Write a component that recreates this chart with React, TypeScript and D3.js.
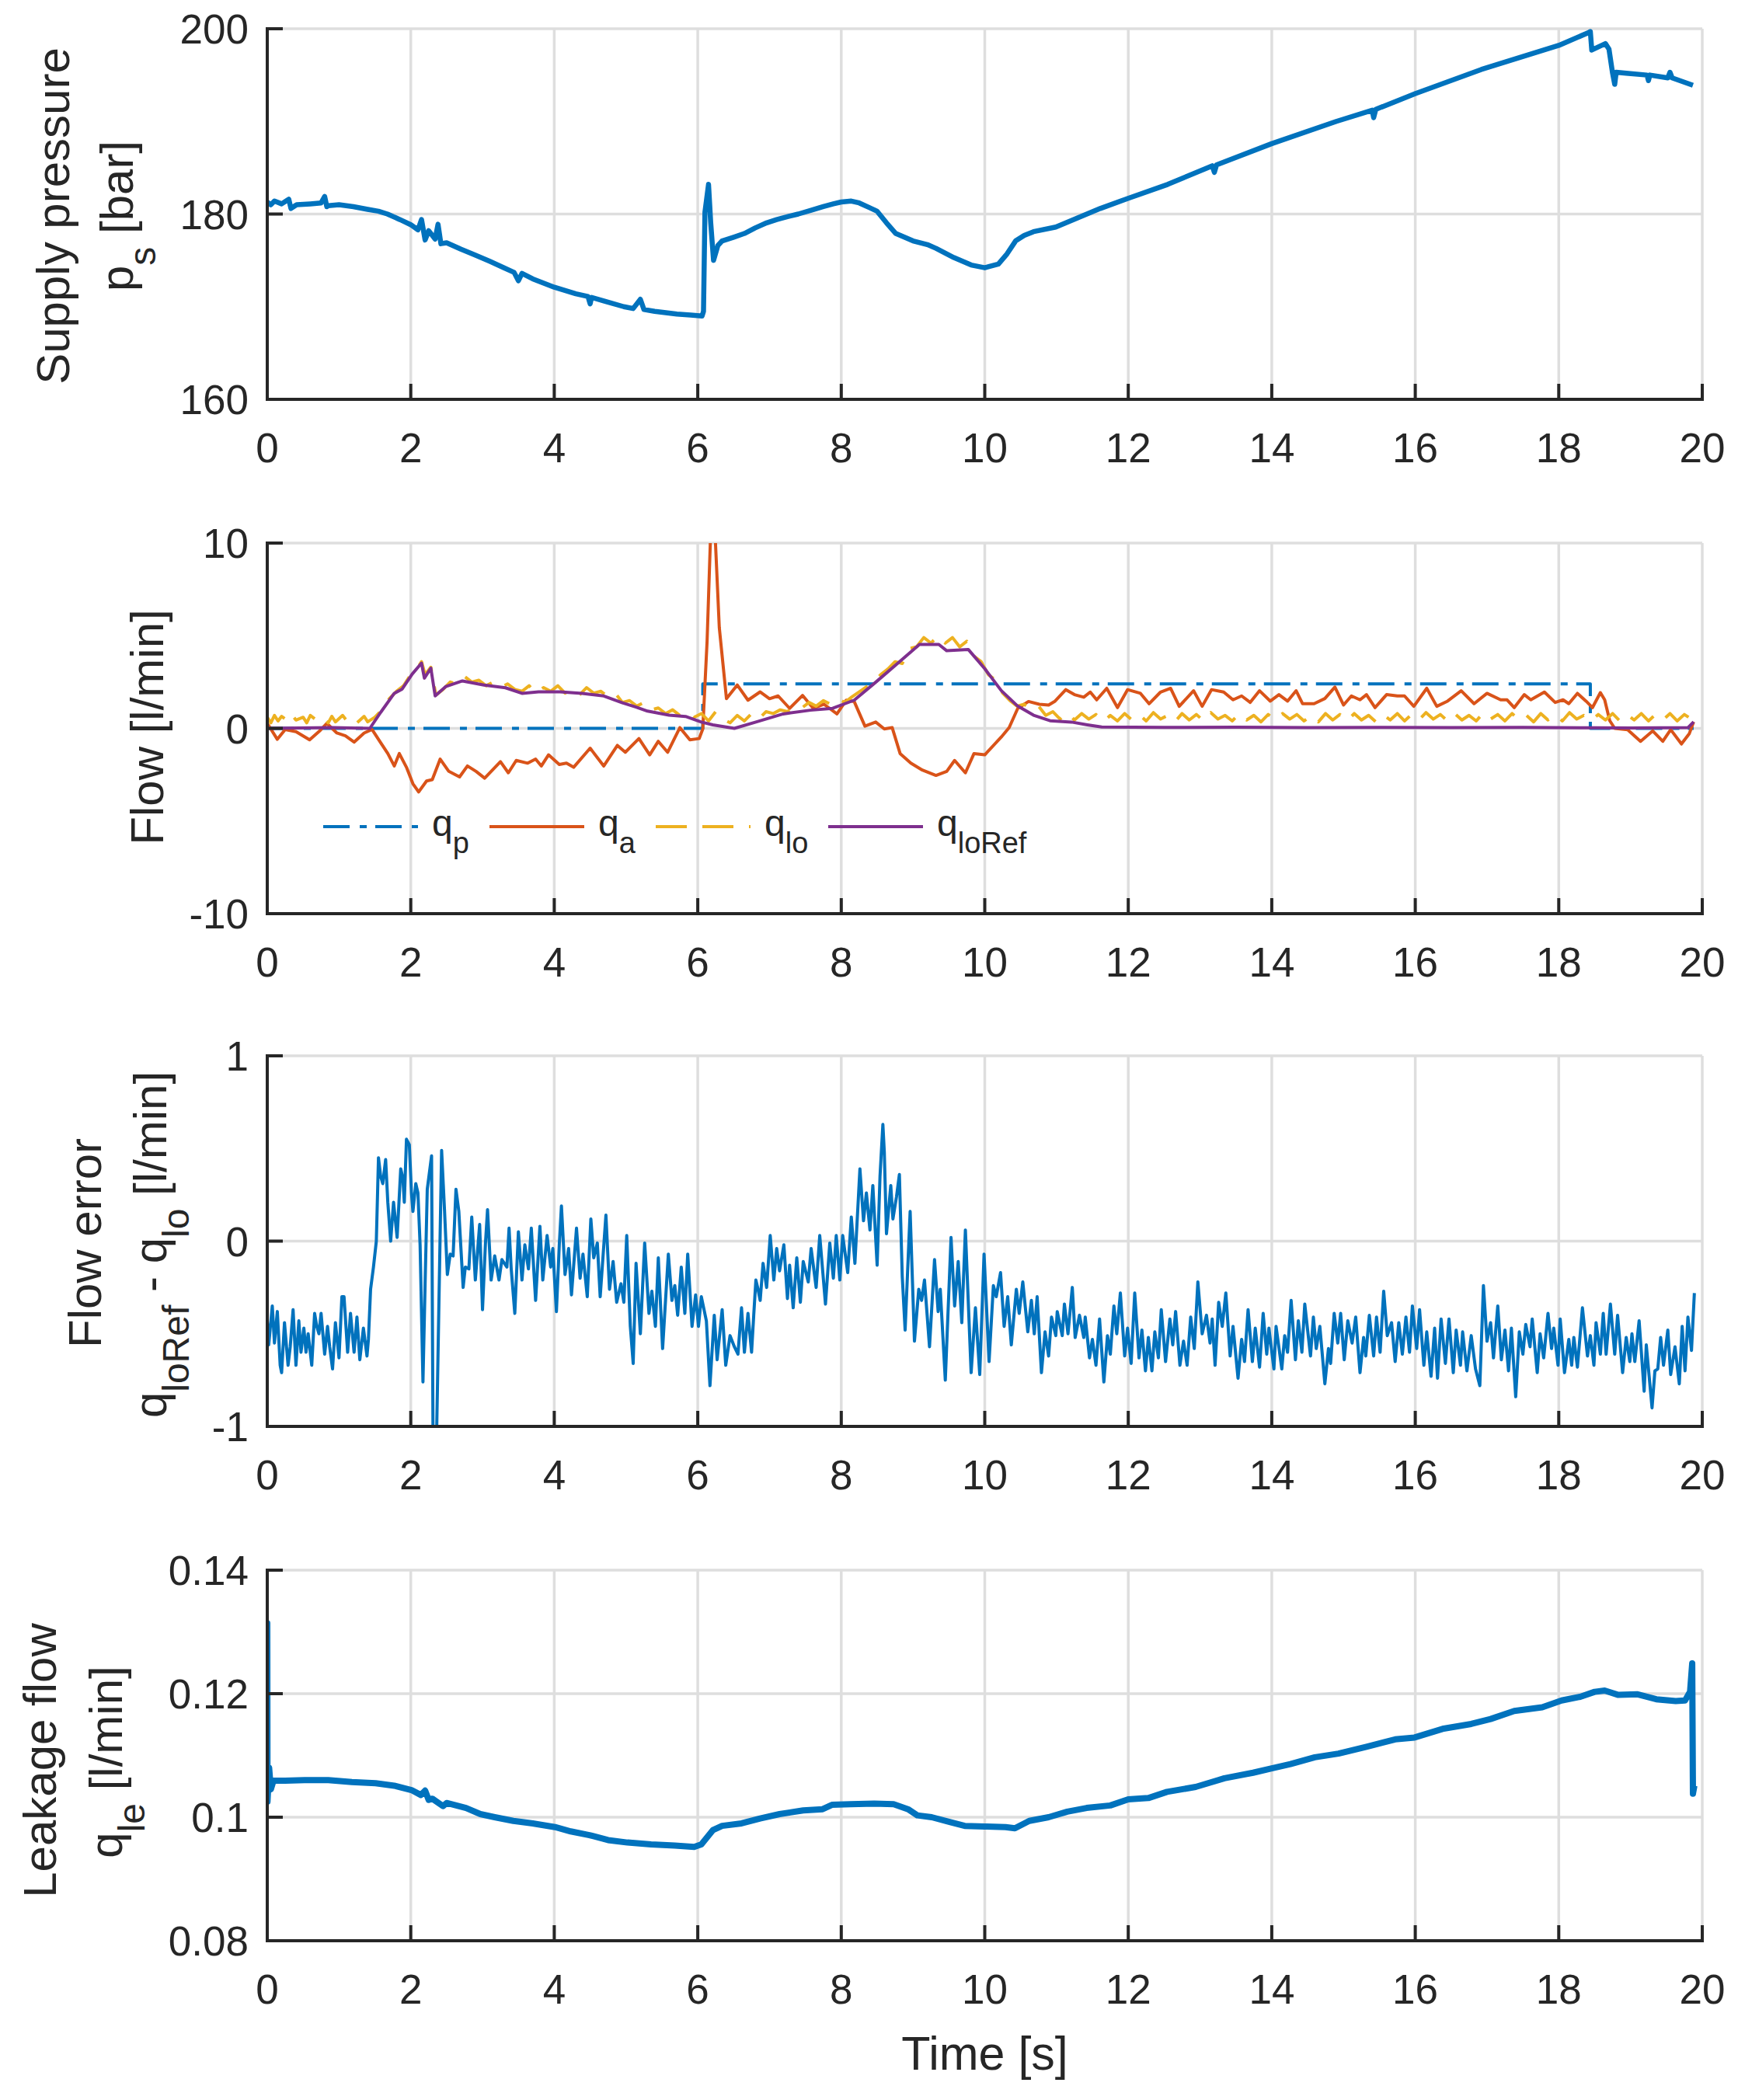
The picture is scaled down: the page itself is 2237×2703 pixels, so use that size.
import * as d3 from "d3";

type Pt = [number, number];

const W = 2237;
const H = 2703;
const LEFT = 344;
const RIGHT = 2191;
const PH = 477;
const TOPS = [37, 699, 1359, 2021];
const FONT = '"Liberation Sans", Arial, Helvetica, sans-serif';
const INK = "#262626";
const GRID = "#dedede";
const BLUE = "#0072BD";
const ORANGE = "#D95319";
const YELLOW = "#EDB120";
const PURPLE = "#7E2F8E";

const timeTicks = [0, 2, 4, 6, 8, 10, 12, 14, 16, 18, 20];
const psTicks = [160, 180, 200];
const flowTicks = [-10, 0, 10];
const errTicks = [-1, 0, 1];
const leakTicks = [0.08, 0.1, 0.12, 0.14];

// supply pressure [bar]
const ps: Pt[] = [
  [0, 181.3], [0.05, 181.0], [0.1, 181.4], [0.2, 181.1], [0.3, 181.6], [0.33, 180.6], [0.41, 181.0],
  [0.6, 181.1], [0.75, 181.2], [0.8, 181.9], [0.83, 180.8], [0.85, 180.9], [1.0, 181.0], [1.2, 180.8],
  [1.4, 180.5], [1.55, 180.3], [1.675, 180.0], [1.85, 179.4], [2.0, 178.85], [2.1, 178.3], [2.15, 179.4],
  [2.2, 177.2], [2.25, 178.2], [2.34, 177.3], [2.38, 178.9], [2.42, 176.8], [2.5, 176.9], [2.7, 176.2],
  [2.89, 175.6], [3.1, 174.9], [3.3, 174.2], [3.44, 173.7], [3.5, 172.8], [3.55, 173.6], [3.7, 173.0],
  [4.0, 172.1], [4.3, 171.4], [4.47, 171.1], [4.5, 170.3], [4.52, 171.0], [4.7, 170.6], [4.97, 170.0],
  [5.1, 169.8], [5.2, 170.8], [5.25, 169.7], [5.4, 169.5], [5.6, 169.3], [5.71, 169.2], [5.9, 169.1],
  [6.06, 169.0], [6.08, 169.5], [6.1, 180.2], [6.15, 183.2], [6.18, 179.1], [6.22, 175.0], [6.28, 176.6],
  [6.34, 177.1], [6.5, 177.5], [6.65, 177.9], [6.8, 178.5], [6.96, 179.05], [7.1, 179.4], [7.27, 179.75],
  [7.4, 180.0], [7.58, 180.4], [7.75, 180.8], [7.89, 181.1], [8.0, 181.3], [8.14, 181.4], [8.25, 181.2],
  [8.39, 180.7], [8.5, 180.3], [8.63, 179.05], [8.76, 177.9], [9.0, 177.1], [9.2, 176.7], [9.32, 176.3],
  [9.57, 175.3], [9.81, 174.5], [10.0, 174.2], [10.19, 174.6], [10.31, 175.7], [10.43, 177.1],
  [10.55, 177.7], [10.68, 178.1], [10.99, 178.6], [11.3, 179.6], [11.61, 180.6], [12.0, 181.7],
  [12.55, 183.2], [13.17, 185.2], [13.2, 184.5], [13.23, 185.3], [14.0, 187.6], [14.9, 190.0],
  [15.4, 191.2], [15.42, 190.4], [15.45, 191.3], [16.0, 193.0], [16.92, 195.6], [18.0, 198.2],
  [18.42, 199.6], [18.44, 199.7], [18.46, 197.7], [18.65, 198.4], [18.7, 197.8], [18.75, 195.2],
  [18.78, 194.0], [18.8, 195.3], [18.94, 195.2], [19.23, 195.0], [19.25, 194.4], [19.27, 195.0],
  [19.52, 194.7], [19.55, 195.3], [19.58, 194.7], [19.87, 193.9],
];

// pump flow q_p [l/min]
const qp: Pt[] = [
  [0, 0], [6.07, 0], [6.07, 2.4], [18.44, 2.4], [18.44, 0], [19.88, 0],
];

// actuator flow q_a [l/min]
const qa: Pt[] = [
  [0, 0.27], [0.14, -0.59], [0.25, -0.06], [0.4, -0.18], [0.59, -0.62], [0.74, -0.1], [0.83, 0.27],
  [0.97, -0.25], [1.09, -0.4], [1.21, -0.74], [1.35, -0.25], [1.46, -0.06], [1.58, -0.77], [1.68, -1.36],
  [1.77, -2.03], [1.84, -1.36], [1.94, -2.1], [2.03, -2.99], [2.11, -3.43], [2.22, -2.84], [2.3, -2.77],
  [2.41, -1.66], [2.53, -2.32], [2.68, -2.62], [2.79, -2.03], [2.91, -2.32], [3.03, -2.69], [3.25, -1.8],
  [3.36, -2.4], [3.47, -1.73], [3.63, -1.88], [3.74, -1.66], [3.82, -2.03], [3.92, -1.43], [4.07, -1.95],
  [4.17, -1.88], [4.27, -2.1], [4.5, -1.07], [4.69, -2.03], [4.88, -0.92], [4.99, -1.29], [5.18, -0.55],
  [5.33, -1.43], [5.45, -0.7], [5.58, -1.29], [5.75, 0.04], [5.89, -0.62], [6.02, -0.55], [6.07, -0.03],
  [6.13, 4.7], [6.18, 10.6], [6.24, 10.6], [6.3, 5.44], [6.4, 1.6], [6.55, 2.34], [6.7, 1.52],
  [6.87, 1.97], [7.0, 1.6], [7.12, 1.75], [7.28, 1.08], [7.46, 1.78], [7.61, 1.08], [7.76, 1.3],
  [7.94, 0.78], [8.07, 1.52], [8.18, 1.45], [8.33, 0.12], [8.48, 0.34], [8.6, -0.03], [8.71, 0.04],
  [8.82, -1.36], [8.97, -1.88], [9.13, -2.25], [9.32, -2.54], [9.47, -2.32], [9.58, -1.73], [9.73, -2.4],
  [9.85, -1.36], [10.0, -1.43], [10.23, -0.47], [10.34, 0.04], [10.46, 1.08], [10.61, 1.45], [10.76, 1.3],
  [10.89, 1.26], [10.98, 1.47], [11.13, 2.09], [11.25, 1.82], [11.38, 1.68], [11.47, 1.96], [11.56, 1.54],
  [11.7, 2.16], [11.85, 1.12], [11.99, 2.09], [12.17, 1.89], [12.29, 1.33], [12.45, 1.96], [12.59, 2.16],
  [12.71, 1.19], [12.91, 2.03], [13.03, 1.19], [13.16, 2.09], [13.33, 1.96], [13.46, 1.54], [13.58, 1.75],
  [13.7, 1.4], [13.83, 2.03], [13.98, 1.47], [14.1, 1.82], [14.22, 1.47], [14.34, 2.03], [14.43, 1.33],
  [14.59, 1.33], [14.74, 1.61], [14.88, 2.23], [15.0, 1.26], [15.11, 1.75], [15.23, 1.54], [15.32, 1.82],
  [15.44, 1.12], [15.6, 1.82], [15.75, 1.75], [15.85, 1.75], [15.98, 1.19], [16.16, 2.16], [16.3, 1.19],
  [16.45, 1.47], [16.64, 2.03], [16.82, 1.33], [17.0, 1.89], [17.19, 1.54], [17.28, 1.54], [17.38, 1.12],
  [17.52, 1.82], [17.61, 1.54], [17.8, 1.96], [17.95, 1.4], [18.06, 1.54], [18.14, 1.33], [18.26, 1.89],
  [18.38, 1.47], [18.47, 1.12], [18.58, 1.93], [18.64, 1.54], [18.71, 0.42], [18.78, 0.0], [18.96, -0.07],
  [19.14, -0.7], [19.31, -0.14], [19.45, -0.7], [19.56, -0.07], [19.71, -0.84], [19.82, -0.28], [19.88, 0.35],
];

// load flow q_lo [l/min]
const qlo: Pt[] = [
  [0, 0.6], [0.05, 0.3], [0.1, 0.7], [0.15, 0.4], [0.2, 0.65], [0.3, 0.35], [0.35, 0.7], [0.4, 0.45],
  [0.5, 0.6], [0.55, 0.3], [0.6, 0.7], [0.7, 0.4], [0.75, 0.6], [0.85, 0.3], [0.9, 0.65], [0.95, 0.35],
  [1.05, 0.7], [1.1, 0.45], [1.2, 0.6], [1.25, 0.3], [1.35, 0.65], [1.4, 0.35], [1.5, 0.6], [1.6, 1.0],
  [1.7, 1.6], [1.8, 2.0], [1.9, 2.3], [2.0, 2.9], [2.1, 3.3], [2.15, 3.6], [2.2, 2.9], [2.28, 3.3],
  [2.35, 1.8], [2.45, 2.1], [2.55, 2.5], [2.65, 2.4], [2.75, 2.8], [2.85, 2.5], [2.95, 2.6], [3.05, 2.3],
  [3.15, 2.5], [3.25, 2.2], [3.35, 2.4], [3.45, 2.1], [3.55, 2.0], [3.65, 2.3], [3.75, 1.9], [3.85, 2.2],
  [3.95, 2.0], [4.05, 2.3], [4.15, 1.9], [4.25, 2.1], [4.35, 1.8], [4.45, 2.2], [4.55, 1.9], [4.65, 2.0],
  [4.75, 1.7], [4.85, 1.9], [4.95, 1.4], [5.05, 1.5], [5.15, 1.2], [5.25, 1.4], [5.35, 1.0], [5.45, 1.1],
  [5.55, 0.8], [5.65, 1.0], [5.75, 0.7], [5.85, 0.9], [5.95, 0.6], [6.05, 0.8], [6.15, 0.4], [6.25, 0.9],
  [6.35, 0.5], [6.45, 0.3], [6.55, 0.7], [6.65, 0.4], [6.75, 0.8], [6.85, 0.5], [6.95, 0.9], [7.05, 0.8],
  [7.15, 1.0], [7.25, 0.9], [7.35, 1.2], [7.45, 1.1], [7.55, 1.4], [7.65, 1.2], [7.75, 1.5], [7.85, 1.3],
  [7.95, 1.6], [8.05, 1.4], [8.15, 1.7], [8.3, 2.1], [8.45, 2.5], [8.55, 2.9], [8.65, 3.2], [8.75, 3.6],
  [8.85, 3.5], [8.95, 4.3], [9.05, 4.4], [9.15, 4.9], [9.25, 4.6], [9.35, 5.0], [9.45, 4.6], [9.55, 4.9],
  [9.65, 4.4], [9.75, 4.7], [9.85, 3.9], [9.95, 3.6], [10.05, 2.9], [10.15, 2.6], [10.25, 1.9], [10.35, 1.5],
  [10.45, 1.2], [10.55, 1.3], [10.65, 1.0], [10.75, 1.2], [10.85, 0.7], [10.95, 0.9], [11.05, 0.5],
  [11.15, 0.85], [11.25, 0.45], [11.35, 0.8], [11.45, 0.5], [11.55, 0.75], [11.65, 0.35], [11.75, 0.7],
  [11.85, 0.4], [11.95, 0.8], [12.05, 0.45], [12.15, 0.75], [12.25, 0.4], [12.35, 0.85], [12.45, 0.5],
  [12.55, 0.7], [12.65, 0.35], [12.75, 0.8], [12.85, 0.45], [12.95, 0.75], [13.05, 0.4], [13.15, 0.85],
  [13.25, 0.5], [13.35, 0.7], [13.45, 0.4], [13.55, 0.8], [13.65, 0.45], [13.75, 0.7], [13.85, 0.35],
  [13.95, 0.75], [14.05, 0.45], [14.15, 0.8], [14.25, 0.5], [14.35, 0.75], [14.45, 0.4], [14.55, 0.7],
  [14.65, 0.35], [14.75, 0.8], [14.85, 0.45], [14.95, 0.75], [15.05, 0.4], [15.15, 0.8], [15.25, 0.45],
  [15.35, 0.7], [15.45, 0.35], [15.55, 0.75], [15.65, 0.45], [15.75, 0.8], [15.85, 0.4], [15.95, 0.75],
  [16.05, 0.45], [16.15, 0.85], [16.25, 0.5], [16.35, 0.75], [16.45, 0.4], [16.55, 0.8], [16.65, 0.45],
  [16.75, 0.7], [16.85, 0.4], [16.95, 0.85], [17.05, 0.5], [17.15, 0.75], [17.25, 0.4], [17.35, 0.8],
  [17.45, 0.45], [17.55, 0.7], [17.65, 0.35], [17.75, 0.8], [17.85, 0.45], [17.95, 0.75], [18.05, 0.4],
  [18.15, 0.85], [18.25, 0.5], [18.35, 0.7], [18.45, 0.4], [18.55, 0.75], [18.65, 0.45], [18.75, 0.8],
  [18.85, 0.4], [18.95, 0.75], [19.05, 0.45], [19.15, 0.8], [19.25, 0.4], [19.35, 0.75], [19.45, 0.45],
  [19.55, 0.8], [19.65, 0.4], [19.75, 0.75], [19.85, 0.5], [19.88, 0.85],
];

// load flow reference q_loRef [l/min]
const qloRef: Pt[] = [
  [0, 0], [0.9, 0.04], [1.43, 0], [1.58, 0.86], [1.77, 1.89], [1.88, 2.12], [2.02, 2.93], [2.15, 3.52],
  [2.19, 2.71], [2.28, 3.25], [2.34, 1.75], [2.49, 2.26], [2.72, 2.56], [3.02, 2.34], [3.32, 2.19],
  [3.55, 1.89], [3.78, 1.97], [4.08, 1.97], [4.39, 1.89], [4.69, 1.75], [4.95, 1.38], [5.14, 1.15],
  [5.3, 0.93], [5.6, 0.71], [5.83, 0.64], [6.05, 0.34], [6.21, 0.19], [6.51, 0], [6.81, 0.34], [7.19, 0.78],
  [7.57, 0.98], [7.88, 1.08], [8.18, 1.52], [8.48, 2.49], [8.79, 3.52], [9.09, 4.53], [9.36, 4.53],
  [9.47, 4.19], [9.77, 4.26], [10.0, 3.22], [10.23, 2.04], [10.45, 1.23], [10.68, 0.71], [10.91, 0.41],
  [11.21, 0.34], [11.43, 0.19], [11.63, 0.07], [12.5, 0.05], [13.5, 0.06], [14.5, 0.04], [15.5, 0.05],
  [16.5, 0.04], [17.5, 0.05], [18.5, 0.03], [19.0, 0.02], [19.8, 0.04], [19.88, 0.35],
];

// flow error q_loRef - q_lo [l/min]
const flowErr: Pt[] = [
  [0, -0.43], [0.02, -0.56], [0.07, -0.35], [0.1, -0.55], [0.14, -0.38], [0.18, -0.67], [0.2, -0.71],
  [0.24, -0.44], [0.29, -0.67], [0.32, -0.57], [0.36, -0.37], [0.4, -0.67], [0.44, -0.43], [0.47, -0.6],
  [0.51, -0.47], [0.54, -0.6], [0.57, -0.5], [0.62, -0.67], [0.66, -0.39], [0.69, -0.46], [0.72, -0.5],
  [0.75, -0.39], [0.8, -0.61], [0.84, -0.46], [0.87, -0.57], [0.91, -0.69], [0.95, -0.44], [1.0, -0.63],
  [1.04, -0.3], [1.07, -0.3], [1.12, -0.6], [1.16, -0.39], [1.21, -0.6], [1.25, -0.41], [1.29, -0.64],
  [1.34, -0.47], [1.39, -0.62], [1.41, -0.53], [1.44, -0.26], [1.48, -0.14], [1.52, 0.0], [1.55, 0.45],
  [1.58, 0.35], [1.61, 0.31], [1.65, 0.44], [1.68, 0.21], [1.72, 0.0], [1.76, 0.21], [1.81, 0.02],
  [1.86, 0.39], [1.89, 0.34], [1.91, 0.21], [1.94, 0.55], [1.98, 0.52], [2.01, 0.26], [2.03, 0.16],
  [2.07, 0.31], [2.1, 0.26], [2.13, -0.02], [2.17, -0.76], [2.2, -0.23], [2.23, 0.28], [2.29, 0.46],
  [2.31, -1.05], [2.36, -1.05], [2.39, -0.39], [2.43, 0.49], [2.47, 0.17], [2.51, -0.18], [2.55, -0.07],
  [2.59, -0.08], [2.63, 0.28], [2.67, 0.16], [2.73, -0.25], [2.76, -0.14], [2.81, -0.15], [2.85, 0.13],
  [2.9, -0.21], [2.96, 0.09], [3.0, -0.37], [3.04, -0.02], [3.07, 0.17], [3.12, -0.21], [3.17, -0.08],
  [3.23, -0.21], [3.27, -0.1], [3.34, -0.14], [3.37, 0.07], [3.4, -0.15], [3.45, -0.39], [3.5, 0.05],
  [3.55, -0.21], [3.59, -0.02], [3.64, -0.15], [3.68, 0.07], [3.74, -0.32], [3.8, 0.08], [3.84, -0.21],
  [3.9, 0.03], [3.95, -0.14], [3.98, -0.04], [4.03, -0.38], [4.07, -0.02], [4.1, 0.19], [4.15, -0.18],
  [4.2, -0.04], [4.24, -0.29], [4.31, 0.07], [4.36, -0.2], [4.4, -0.07], [4.46, -0.3], [4.51, 0.12],
  [4.55, -0.09], [4.6, -0.01], [4.64, -0.3], [4.72, 0.14], [4.77, -0.26], [4.82, -0.11], [4.87, -0.33],
  [4.93, -0.23], [4.97, -0.33], [5.01, 0.03], [5.06, -0.46], [5.1, -0.66], [5.14, -0.12], [5.2, -0.5],
  [5.26, -0.01], [5.32, -0.39], [5.36, -0.27], [5.41, -0.46], [5.45, -0.09], [5.51, -0.58], [5.59, -0.07],
  [5.64, -0.32], [5.68, -0.24], [5.72, -0.4], [5.77, -0.14], [5.82, -0.39], [5.86, -0.07], [5.92, -0.46],
  [5.97, -0.29], [6.01, -0.46], [6.05, -0.3], [6.12, -0.43], [6.17, -0.78], [6.23, -0.4], [6.27, -0.64],
  [6.34, -0.37], [6.39, -0.67], [6.45, -0.51], [6.51, -0.57], [6.56, -0.61], [6.61, -0.36], [6.65, -0.6],
  [6.7, -0.39], [6.75, -0.6], [6.78, -0.4], [6.81, -0.21], [6.84, -0.26], [6.87, -0.32], [6.91, -0.12],
  [6.96, -0.25], [7.01, 0.03], [7.06, -0.21], [7.1, -0.04], [7.14, -0.16], [7.2, -0.02], [7.25, -0.31],
  [7.28, -0.13], [7.33, -0.36], [7.38, -0.09], [7.43, -0.33], [7.47, -0.11], [7.54, -0.22], [7.58, -0.04],
  [7.65, -0.25], [7.7, 0.03], [7.78, -0.34], [7.84, -0.01], [7.89, -0.2], [7.93, 0.03], [7.98, -0.21],
  [8.02, 0.03], [8.09, -0.17], [8.14, 0.13], [8.19, -0.12], [8.26, 0.39], [8.31, 0.11], [8.35, 0.26],
  [8.4, 0.06], [8.44, 0.3], [8.5, -0.13], [8.54, 0.35], [8.58, 0.63], [8.6, 0.48], [8.63, 0.04],
  [8.69, 0.3], [8.72, 0.12], [8.77, 0.24], [8.81, 0.36], [8.85, -0.19], [8.89, -0.48], [8.96, 0.16],
  [9.02, -0.54], [9.08, -0.26], [9.12, -0.32], [9.16, -0.21], [9.23, -0.57], [9.3, -0.1], [9.35, -0.38],
  [9.38, -0.26], [9.45, -0.75], [9.53, 0.02], [9.58, -0.35], [9.63, -0.11], [9.68, -0.44], [9.73, 0.06],
  [9.81, -0.71], [9.87, -0.36], [9.93, -0.72], [9.99, -0.07], [10.06, -0.65], [10.12, -0.24], [10.16, -0.3],
  [10.22, -0.17], [10.27, -0.46], [10.32, -0.3], [10.37, -0.56], [10.44, -0.26], [10.48, -0.39],
  [10.53, -0.22], [10.6, -0.49], [10.65, -0.32], [10.69, -0.5], [10.73, -0.3], [10.79, -0.71],
  [10.84, -0.49], [10.89, -0.62], [10.93, -0.41], [10.99, -0.51], [11.01, -0.38], [11.08, -0.51],
  [11.11, -0.34], [11.16, -0.5], [11.22, -0.25], [11.26, -0.52], [11.32, -0.4], [11.38, -0.52],
  [11.4, -0.41], [11.46, -0.63], [11.5, -0.53], [11.55, -0.67], [11.6, -0.42], [11.66, -0.76],
  [11.71, -0.51], [11.75, -0.61], [11.8, -0.35], [11.84, -0.5], [11.89, -0.28], [11.95, -0.62],
  [11.99, -0.47], [12.04, -0.66], [12.09, -0.28], [12.15, -0.63], [12.19, -0.48], [12.24, -0.7],
  [12.28, -0.52], [12.33, -0.7], [12.37, -0.49], [12.42, -0.63], [12.46, -0.37], [12.52, -0.65],
  [12.58, -0.42], [12.62, -0.56], [12.66, -0.38], [12.72, -0.67], [12.77, -0.54], [12.82, -0.67],
  [12.87, -0.41], [12.92, -0.58], [12.97, -0.22], [13.03, -0.5], [13.09, -0.4], [13.14, -0.55],
  [13.17, -0.42], [13.21, -0.67], [13.26, -0.33], [13.31, -0.46], [13.36, -0.28], [13.42, -0.62],
  [13.46, -0.46], [13.53, -0.74], [13.58, -0.53], [13.62, -0.65], [13.67, -0.37], [13.73, -0.65],
  [13.77, -0.47], [13.83, -0.68], [13.88, -0.39], [13.93, -0.61], [13.96, -0.47], [14.03, -0.69],
  [14.06, -0.46], [14.14, -0.69], [14.18, -0.51], [14.22, -0.6], [14.27, -0.32], [14.33, -0.64],
  [14.37, -0.43], [14.42, -0.6], [14.46, -0.34], [14.54, -0.62], [14.58, -0.41], [14.62, -0.58],
  [14.67, -0.46], [14.74, -0.77], [14.79, -0.58], [14.82, -0.66], [14.87, -0.39], [14.92, -0.55],
  [14.96, -0.39], [15.01, -0.64], [15.06, -0.43], [15.12, -0.55], [15.17, -0.41], [15.23, -0.71],
  [15.28, -0.52], [15.31, -0.62], [15.36, -0.4], [15.42, -0.62], [15.46, -0.41], [15.51, -0.6],
  [15.56, -0.27], [15.61, -0.51], [15.67, -0.44], [15.72, -0.65], [15.77, -0.44], [15.82, -0.61],
  [15.87, -0.41], [15.92, -0.6], [15.96, -0.35], [16.02, -0.58], [16.06, -0.37], [16.12, -0.67],
  [16.16, -0.49], [16.22, -0.73], [16.27, -0.47], [16.31, -0.74], [16.36, -0.42], [16.42, -0.66],
  [16.47, -0.42], [16.53, -0.71], [16.57, -0.48], [16.63, -0.67], [16.66, -0.49], [16.72, -0.7],
  [16.78, -0.51], [16.84, -0.69], [16.9, -0.78], [16.95, -0.24], [17.0, -0.54], [17.05, -0.44],
  [17.09, -0.63], [17.15, -0.35], [17.2, -0.64], [17.25, -0.48], [17.3, -0.7], [17.34, -0.47],
  [17.4, -0.84], [17.45, -0.49], [17.5, -0.61], [17.54, -0.45], [17.6, -0.57], [17.63, -0.42],
  [17.7, -0.71], [17.74, -0.5], [17.79, -0.63], [17.85, -0.39], [17.9, -0.58], [17.93, -0.47],
  [17.99, -0.67], [18.02, -0.42], [18.08, -0.71], [18.14, -0.53], [18.18, -0.67], [18.21, -0.52],
  [18.26, -0.68], [18.33, -0.36], [18.4, -0.62], [18.44, -0.51], [18.49, -0.67], [18.52, -0.44],
  [18.58, -0.61], [18.62, -0.39], [18.66, -0.61], [18.72, -0.34], [18.78, -0.61], [18.82, -0.4],
  [18.89, -0.71], [18.94, -0.52], [18.99, -0.65], [19.02, -0.5], [19.06, -0.65], [19.12, -0.43],
  [19.19, -0.81], [19.22, -0.56], [19.26, -0.73], [19.3, -0.9], [19.34, -0.7], [19.38, -0.69],
  [19.42, -0.52], [19.46, -0.67], [19.52, -0.48], [19.56, -0.72], [19.62, -0.57], [19.68, -0.77],
  [19.72, -0.46], [19.76, -0.7], [19.8, -0.41], [19.85, -0.59], [19.89, -0.28],
];

// leakage flow q_le [l/min]
const leak: Pt[] = [
  [0, 0.105], [0, 0.1314], [0.003, 0.1025], [0.026, 0.108], [0.05, 0.1045], [0.086, 0.1059], [0.25, 0.1059],
  [0.52, 0.106], [0.85, 0.106], [1.18, 0.1057], [1.51, 0.1055], [1.77, 0.1051], [2.01, 0.1044],
  [2.14, 0.1036], [2.2, 0.1043], [2.25, 0.1028], [2.3, 0.103], [2.45, 0.1018], [2.5, 0.1023],
  [2.77, 0.1015], [2.97, 0.1005], [3.17, 0.1], [3.43, 0.0994], [3.7, 0.099], [4.01, 0.0984],
  [4.23, 0.0977], [4.49, 0.0971], [4.75, 0.0963], [5.02, 0.0959], [5.35, 0.0956], [5.68, 0.0954],
  [5.95, 0.0952], [6.05, 0.0956], [6.21, 0.0979], [6.34, 0.0986], [6.61, 0.099], [6.87, 0.0998],
  [7.14, 0.1005], [7.47, 0.1011], [7.74, 0.1013], [7.87, 0.102], [8.13, 0.1021], [8.46, 0.1022],
  [8.73, 0.1021], [8.93, 0.1013], [9.06, 0.1003], [9.26, 0.1], [9.52, 0.0992], [9.72, 0.0986],
  [10.0, 0.0985], [10.29, 0.0984], [10.42, 0.0982], [10.62, 0.0994], [10.89, 0.1], [11.15, 0.1009],
  [11.42, 0.1015], [11.75, 0.1019], [12.0, 0.1029], [12.28, 0.1031], [12.54, 0.1041], [12.94, 0.1049],
  [13.34, 0.1063], [13.74, 0.1072], [14.0, 0.1079], [14.26, 0.1086], [14.6, 0.1097], [14.93, 0.1103],
  [15.32, 0.1114], [15.72, 0.1126], [15.99, 0.1129], [16.38, 0.1143], [16.78, 0.1151], [17.05, 0.1159],
  [17.38, 0.1172], [17.77, 0.1178], [18.04, 0.1189], [18.3, 0.1195], [18.5, 0.1203], [18.64, 0.1205],
  [18.83, 0.1198], [19.1, 0.1199], [19.36, 0.1191], [19.63, 0.1188], [19.76, 0.1189], [19.83, 0.1203],
  [19.86, 0.1249], [19.87, 0.1038], [19.89, 0.1051],
];

const x = d3.scaleLinear().domain([0, 20]).range([LEFT, RIGHT]);

type Series = { data: Pt[]; color: string; width: number; dash?: string };

function Panel({
  idx,
  top,
  domain,
  ticks,
  fmt,
  series,
}: {
  idx: number;
  top: number;
  domain: [number, number];
  ticks: number[];
  fmt: (v: number) => string;
  series: Series[];
}) {
  const bottom = top + PH;
  const y = d3.scaleLinear().domain(domain).range([bottom, top]);
  const line = d3
    .line<Pt>()
    .x((d) => x(d[0]))
    .y((d) => y(d[1]));
  return (
    <g>
      <defs>
        <clipPath id={`clip-${idx}`}>
          <rect x={LEFT} y={top} width={RIGHT - LEFT} height={PH} />
        </clipPath>
      </defs>
      {/* grid */}
      {timeTicks.slice(1).map((t) => (
        <line key={`gx${t}`} x1={x(t)} x2={x(t)} y1={top} y2={bottom} stroke={GRID} strokeWidth={3.5} />
      ))}
      {ticks.slice(1).map((v) => (
        <line key={`gy${v}`} x1={LEFT} x2={RIGHT} y1={y(v)} y2={y(v)} stroke={GRID} strokeWidth={3.5} />
      ))}
      {/* data */}
      <g clipPath={`url(#clip-${idx})`}>
        {series.map((s, i) => (
          <path
            key={i}
            d={line(s.data) ?? ""}
            fill="none"
            stroke={s.color}
            strokeWidth={s.width}
            strokeDasharray={s.dash}
            strokeLinejoin="round"
          />
        ))}
      </g>
      {/* axes */}
      <line x1={LEFT} x2={LEFT} y1={top} y2={bottom} stroke={INK} strokeWidth={4} strokeLinecap="square" />
      <line x1={LEFT} x2={RIGHT} y1={bottom} y2={bottom} stroke={INK} strokeWidth={4} strokeLinecap="square" />
      {timeTicks.map((t) => (
        <line key={`tx${t}`} x1={x(t)} x2={x(t)} y1={bottom} y2={bottom - 20} stroke={INK} strokeWidth={4} />
      ))}
      {ticks.map((v) => (
        <line key={`ty${v}`} x1={LEFT} x2={LEFT + 20} y1={y(v)} y2={y(v)} stroke={INK} strokeWidth={4} />
      ))}
      {timeTicks.map((t) => (
        <text key={`lx${t}`} x={x(t)} y={bottom + 81} textAnchor="middle" fontSize={53} fill={INK}>
          {t}
        </text>
      ))}
      {ticks.map((v) => (
        <text key={`ly${v}`} x={LEFT - 24} y={y(v)} dy="0.36em" textAnchor="end" fontSize={53} fill={INK}>
          {fmt(v)}
        </text>
      ))}
    </g>
  );
}

const legendItems = [
  { name: "q", sub: "p", color: BLUE, dash: "34,13,9,11" },
  { name: "q", sub: "a", color: ORANGE, dash: undefined },
  { name: "q", sub: "lo", color: YELLOW, dash: "40,20" },
  { name: "q", sub: "loRef", color: PURPLE, dash: undefined },
];
const LEGEND_X = [416, 630, 844, 1066];
const LEGEND_Y = 1064;

function YLabel({ x0, cy, children }: { x0: number; cy: number; children: any }) {
  return (
    <text
      x={x0}
      y={cy}
      transform={`rotate(-90 ${x0} ${cy})`}
      textAnchor="middle"
      fontSize={60}
      fill={INK}
    >
      {children}
    </text>
  );
}

export default function App() {
  const sub = { fontSize: 48 };
  const S = 29;
  return (
    <svg
      width={W}
      height={H}
      viewBox={`0 0 ${W} ${H}`}
      style={{ position: "absolute", left: 0, top: 0, background: "#fff", fontFamily: FONT }}
    >
      <rect width={W} height={H} fill="#fff" />
      <Panel
        idx={0}
        top={TOPS[0]}
        domain={[160, 200]}
        ticks={psTicks}
        fmt={(v) => String(v)}
        series={[{ data: ps, color: BLUE, width: 6.5 }]}
      />
      <Panel
        idx={1}
        top={TOPS[1]}
        domain={[-10, 10]}
        ticks={flowTicks}
        fmt={(v) => String(v)}
        series={[
          { data: qp, color: BLUE, width: 4, dash: "34,13,9,11" },
          { data: qa, color: ORANGE, width: 4 },
          { data: qlo, color: YELLOW, width: 4, dash: "40,20" },
          { data: qloRef, color: PURPLE, width: 4 },
        ]}
      />
      <Panel
        idx={2}
        top={TOPS[2]}
        domain={[-1, 1]}
        ticks={errTicks}
        fmt={(v) => String(v)}
        series={[{ data: flowErr, color: BLUE, width: 4 }]}
      />
      <Panel
        idx={3}
        top={TOPS[3]}
        domain={[0.08, 0.14]}
        ticks={leakTicks}
        fmt={(v) => d3.format("~g")(v)}
        series={[{ data: leak, color: BLUE, width: 8 }]}
      />

      {/* legend of flow panel */}
      {legendItems.map((it, i) => {
        const lx = LEGEND_X[i];
        return (
          <g key={it.sub}>
            <line
              x1={lx}
              x2={lx + 122}
              y1={LEGEND_Y}
              y2={LEGEND_Y}
              stroke={it.color}
              strokeWidth={4}
              strokeDasharray={it.dash}
            />
            <text x={lx + 140} y={LEGEND_Y + 12} fontSize={48} fill={INK}>
              {it.name}
              <tspan fontSize={38} dy={22}>
                {it.sub}
              </tspan>
            </text>
          </g>
        );
      })}

      {/* y labels */}
      <YLabel x0={89} cy={278}>
        Supply pressure
      </YLabel>
      <YLabel x0={171} cy={278}>
        p<tspan {...sub} dy={S}>s</tspan>
        <tspan dy={-S}> [bar]</tspan>
      </YLabel>
      <YLabel x0={210} cy={936}>
        Flow [l/min]
      </YLabel>
      <YLabel x0={130} cy={1600}>
        Flow error
      </YLabel>
      <YLabel x0={214} cy={1602}>
        q<tspan {...sub} dy={S}>loRef</tspan>
        <tspan dy={-S}> - q</tspan>
        <tspan {...sub} dy={S}>lo</tspan>
        <tspan dy={-S}> [l/min]</tspan>
      </YLabel>
      <YLabel x0={72} cy={2266}>
        Leakage flow
      </YLabel>
      <YLabel x0={157} cy={2268}>
        q<tspan {...sub} dy={S}>le</tspan>
        <tspan dy={-S}> [l/min]</tspan>
      </YLabel>

      <text x={(LEFT + RIGHT) / 2} y={2664} textAnchor="middle" fontSize={61} fill={INK}>
        Time [s]
      </text>
    </svg>
  );
}
